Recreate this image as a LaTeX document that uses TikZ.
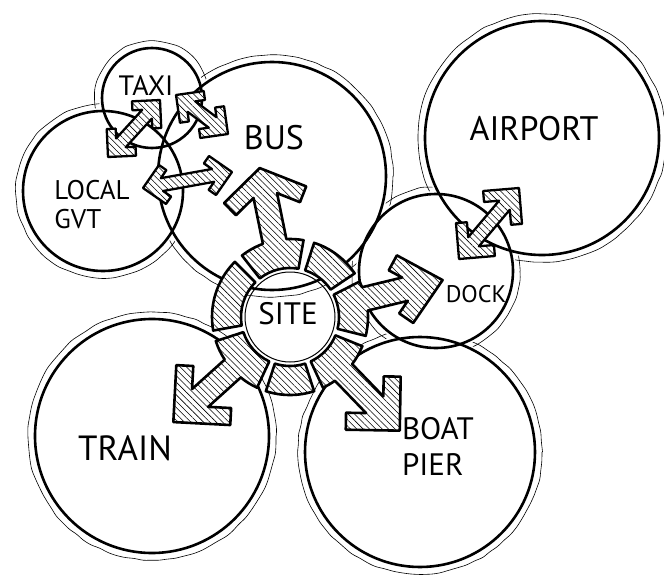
\documentclass[tikz,border=0pt]{standalone}
\usepackage{fontspec}
\setmainfont{PT Sans}
\usetikzlibrary{patterns.meta,decorations.pathmorphing}
\newcommand\rp[2]{({\ph+atan2(#2,#1)}:{veclen(#1,#2)})}
\def\rIn{49}
\def\rOut{78}
\def\arW{12}
\def\arS{17}
% ring segment with an arrow: theta1, theta2, phi, tip distance, half-angle, arm length
\newcommand\siteArrow[6]{%
  \pgfmathsetmacro\ph{#3}%
  \pgfmathsetmacro\sa{sin(#5)}%
  \pgfmathsetmacro\ca{cos(#5)}%
  \pgfmathsetmacro\An{#4-(\arS+\arW*\ca)/\sa}%
  \pgfmathsetmacro\Awo{#4-#6*\ca}%
  \pgfmathsetmacro\Bwo{#6*\sa}%
  \pgfmathsetmacro\Awi{\Awo-\arS*\sa}%
  \pgfmathsetmacro\Bwi{\Bwo-\arS*\ca}%
  \pgfmathsetmacro\dl{asin(\arW/\rOut)}%
  \path[arr] (#1:\rIn) arc[start angle=#1,end angle=#2,radius=\rIn]
    -- (#2:\rOut) arc[start angle=#2,end angle=\ph+\dl,radius=\rOut]
    -- \rp{\An}{\arW} -- \rp{\Awi}{\Bwi} -- \rp{\Awo}{\Bwo} -- \rp{#4}{0}
    -- \rp{\Awo}{-\Bwo} -- \rp{\Awi}{-\Bwi} -- \rp{\An}{-\arW}
    -- (\ph-\dl:\rOut) arc[start angle=\ph-\dl,end angle=#1,radius=\rOut] -- cycle;%
}
\newcommand\ringSeg[2]{%
  \path[arr] (#1:\rIn) arc[start angle=#1,end angle=#2,radius=\rIn]
    -- (#2:\rOut) arc[start angle=#2,end angle=#1,radius=\rOut] -- cycle;%
}
% double arrow between two tips: x1,y1,x2,y2,arm length
\def\dS{9}
\def\dW{6.5}
\newcommand\dArrow[5]{%
  \pgfmathsetmacro\dph{atan2(#2-#4,#3-#1)}%
  \pgfmathsetmacro\dL{veclen(#3-#1,#4-#2)}%
  \pgfmathsetmacro\dn{(\dS+\dW*0.7071)/0.7071}%
  \pgfmathsetmacro\wo{#5*0.7071}%
  \pgfmathsetmacro\wi{\wo-\dS*0.7071}%
  \pgfmathsetmacro\awi{\wo+\dS*0.7071}%
  \begin{scope}[shift={(#1,#2)}, rotate=\dph, y=1pt]
    \path[arr, line width=2.3pt] (\dn,\dW) -- (\dL-\dn,\dW) -- (\dL-\awi,\wi) -- (\dL-\wo,\wo)
      -- (\dL,0) -- (\dL-\wo,-\wo) -- (\dL-\awi,-\wi) -- (\dL-\dn,-\dW) -- (\dn,-\dW)
      -- (\awi,-\wi) -- (\wo,-\wo) -- (0,0) -- (\wo,\wo) -- (\awi,\wi) -- cycle;
  \end{scope}%
}
\begin{document}
\begin{tikzpicture}[x=1pt,y=-1pt,
  halo/.style={line width=0.6pt, decorate, decoration={random steps,segment length=9pt,amplitude=0.7pt}, rounded corners=3pt},
  bub/.style={circle, draw, line width=2.6pt, inner sep=0pt, minimum size=#1},
  arr/.style={draw, line width=2.6pt, line join=round, preaction={fill=white},
    pattern={Lines[angle=-45,distance=4.5pt,line width=0.55pt]}},
  lab/.style args={#1/#2}{font=\fontsize{#1}{#2}\selectfont, inner sep=0pt},
]
\useasboundingbox (0,0) rectangle (664,575);
\def\bubbles{taxi/152/98/50, local/103/191/80, bus/272/176/114, airport/542/138/117,
  dock/436/271/77, train/152/436/117, pier/420/452/115}
\foreach \n/\x/\y/\r in \bubbles { \draw[halo] (\x,\y) circle[radius=\r+7]; }
\foreach \n/\x/\y/\r in \bubbles { \fill[white] (\x,\y) circle[radius=\r+3]; }
\foreach \n/\x/\y/\r in \bubbles { \node[bub=2*\r*1pt] (\n) at (\x,\y) {}; }
\node[circle, draw, line width=1pt, minimum size=90pt, inner sep=0pt] (site) at (290,317) {};
\begin{scope}[shift={(290,317)}, y=1pt]
  \ringSeg{135}{190}
  \ringSeg{34}{72}
  \ringSeg{-108}{-72}
  \siteArrow{80}{128}{101.5}{152}{57}{50}
  \siteArrow{-14}{27}{13.6}{157}{42}{52}
  \siteArrow{-65}{-22}{-46}{158}{45}{54}
  \siteArrow{-162}{-115}{-138}{157}{45}{57}
\end{scope}
\dArrow{108}{157}{160}{100}{28}
\dArrow{176}{95}{228}{134}{28}
\dArrow{143}{188}{232}{172}{28}
\def\dS{11}\def\dW{7}
\dArrow{459}{259}{519}{188}{36}
\node[lab=28/30] (taxil) at (146,86) {TAXI};
\node[lab=34/36] (busl) at (274,138) {BUS};
\node[lab=27/29, align=left] (locall) at (92,205) {LOCAL\\GVT};
\node[lab=34/36] (airl) at (534,129) {AIRPORT};
\node[lab=31/33] (sitel) at (288,314) {SITE};
\node[lab=24/26] (dockl) at (476,294) {DOCK};
\node[lab=35/37] (trainl) at (125,448) {TRAIN};
\node[lab=31/36, align=left] (pierl) at (438,446) {BOAT\\PIER};
\end{tikzpicture}
\end{document}
